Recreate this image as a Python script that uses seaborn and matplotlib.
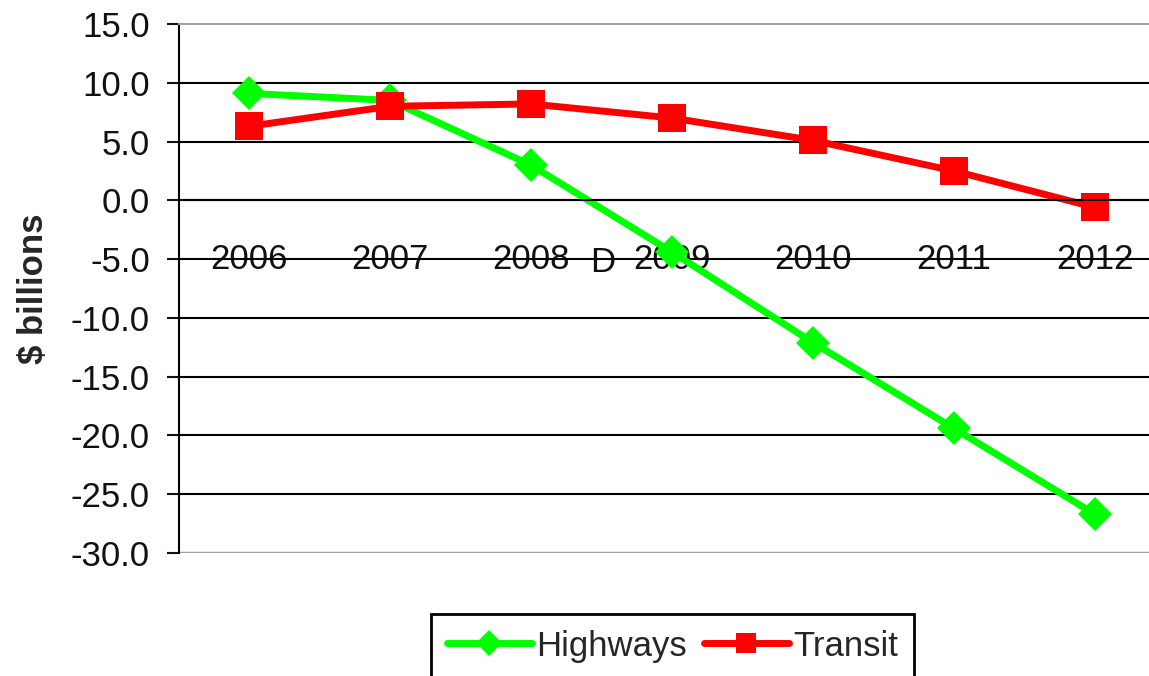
import pandas as pd
import matplotlib.pyplot as plt
import seaborn as sns

# chart values
years = ['2006', '2007', '2008', '2009', '2010', '2011', '2012']
highways = [9.1, 8.5, 3.0, -4.4, -12.1, -19.4, -26.7]
transit = [6.3, 8.0, 8.2, 7.0, 5.1, 2.5, -0.6]
y_ticks = [15, 10, 5, 0, -5, -10, -15, -20, -25, -30]

df = pd.DataFrame({'Year': years, 'Highways': highways, 'Transit': transit})

sns.set_style('white')
plt.rcParams['font.family'] = ['Liberation Sans', 'DejaVu Sans']

fig = plt.figure(figsize=(11.49, 6.76), dpi=100)
ax = fig.add_axes([178.5 / 1149, 1 - 553 / 676, 987 / 1149, 529 / 676])

sns.lineplot(data=df, x='Year', y='Highways', ax=ax, color='#00ff00', marker='D',
             markersize=17.5, markeredgewidth=0, linewidth=5, label='Highways')
sns.lineplot(data=df, x='Year', y='Transit', ax=ax, color='#ff0000', marker='s',
             markersize=19.5, markeredgewidth=0, linewidth=5, label='Transit')

ax.set_xlim(-0.5, len(years) - 0.5)
ax.set_ylim(-30, 15)
ax.set_yticks(y_ticks)
ax.set_yticklabels([f'{v:.1f}' for v in y_ticks])

# category labels at centers, tick marks at boundaries
ax.set_xticks(range(len(years)))
ax.set_xticklabels(years)
ax.set_xticks([i + 0.5 for i in range(len(years) - 1)], minor=True)
ax.tick_params(axis='x', which='major', length=0, pad=31, labelsize=25, colors='#111111')
ax.tick_params(axis='x', which='minor', length=7, width=1.5, direction='out', color='black')
ax.tick_params(axis='y', which='major', length=8.5, width=1.5, direction='out',
               pad=12, labelsize=25, left=True, colors='#111111')
ax.set_xlabel('')

# horizontal grid, black
ax.grid(axis='y', color='black', linewidth=1.5)
ax.set_axisbelow(True)
gl = ax.get_ygridlines()
gl[0].set_visible(False)
gl[-1].set_visible(False)

ax.spines['bottom'].set_position(('data', 0))
ax.spines['bottom'].set_color('black')
ax.spines['bottom'].set_linewidth(1.5)
ax.spines['left'].set_color('black')
ax.spines['left'].set_linewidth(1.5)
ax.spines['top'].set_color('#a0a0a0')
ax.spines['top'].set_linewidth(1.5)
ax.spines['right'].set_color('#a0a0a0')
ax.axhline(-30, color='#a0a0a0', linewidth=2.5, zorder=0.5)

ax.set_ylabel('$ billions', fontsize=25, fontweight='bold', va='center')
ax.yaxis.set_label_coords(-0.1474, 0.5)

ax.text(2.51, -5.25, 'D', fontsize=25, ha='center', va='center', color='#111111')

leg = ax.legend(loc='upper center', bbox_to_anchor=(672.5 / 1149, 1 - 614 / 676),
                bbox_transform=fig.transFigure, ncol=2, fontsize=25, frameon=True,
                fancybox=False, edgecolor='black', borderpad=0.45, borderaxespad=0,
                handlelength=2.45, handletextpad=0.12, columnspacing=0.49,
                markerscale=0.75)
leg.get_frame().set_linewidth(2)
leg.get_frame().set_alpha(1)

fig.savefig('out.png', dpi=100)
